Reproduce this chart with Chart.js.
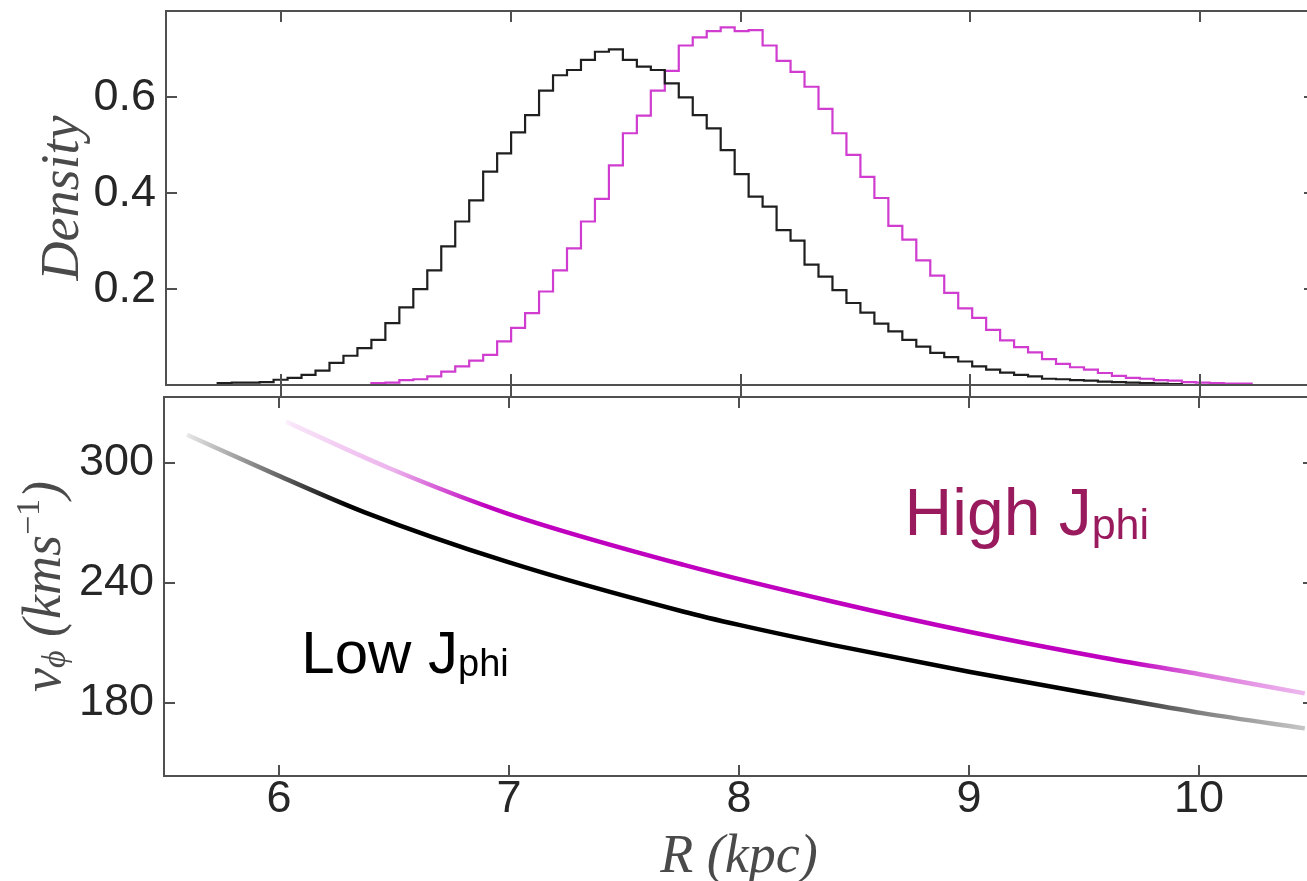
<!DOCTYPE html>
<html>
<head>
<meta charset="utf-8">
<script src="https://cdn.jsdelivr.net/npm/chart.js@4.4.1/dist/chart.umd.min.js"></script>
<style>
  html, body { margin: 0; padding: 0; background: #fff; overflow: hidden; }
  #wrap { position: relative; width: 1307px; height: 881px; overflow: hidden; }
  canvas { position: absolute; left: 0; }
  #densityChart { top: 0; }
  #velocityChart { top: 385px; }
</style>
</head>
<body>
<div id="wrap">
  <canvas id="densityChart" width="1330" height="400"></canvas>
  <canvas id="velocityChart" width="1330" height="496"></canvas>
</div>
<script>
// ==========================================================================
// DATA
// ==========================================================================
// both histograms share one bin grid (kpc)
const binStart = 5.725;
const binWidth = 0.0608;
const lowFirstBin = 0;
const highFirstBin = 11;

// density per bin, low J_phi sample (black)
const lowDensity = [
  0.004, 0.005, 0.005, 0.006, 0.011, 0.015, 0.021, 0.030, 0.046, 0.061,
  0.077, 0.094, 0.129, 0.162, 0.200, 0.239, 0.289, 0.341, 0.385, 0.445,
  0.483, 0.527, 0.563, 0.614, 0.646, 0.657, 0.678, 0.695, 0.700, 0.678,
  0.664, 0.657, 0.629, 0.600, 0.563, 0.535, 0.490, 0.440, 0.393, 0.372,
  0.323, 0.301, 0.251, 0.226, 0.198, 0.171, 0.151, 0.128, 0.112, 0.094,
  0.080, 0.067, 0.058, 0.049, 0.039, 0.032, 0.026, 0.021, 0.018, 0.013,
  0.012, 0.010, 0.009, 0.007, 0.006, 0.005, 0.004, 0.003, 0.002
];

// density per bin, high J_phi sample (magenta), starting at bin 11
const highDensity = [
  0.004, 0.005, 0.010, 0.012, 0.018, 0.028, 0.039, 0.051, 0.063, 0.091,
  0.119, 0.150, 0.195, 0.239, 0.285, 0.341, 0.388, 0.458, 0.525, 0.562,
  0.614, 0.655, 0.708, 0.725, 0.738, 0.746, 0.738, 0.740, 0.708, 0.676,
  0.653, 0.622, 0.576, 0.525, 0.480, 0.434, 0.390, 0.332, 0.303, 0.260,
  0.228, 0.192, 0.160, 0.140, 0.115, 0.093, 0.079, 0.068, 0.054, 0.044,
  0.037, 0.032, 0.025, 0.019, 0.015, 0.013, 0.010, 0.009, 0.006, 0.005,
  0.004, 0.003, 0.003
];

// v_phi against R
const lowCurveR  = [5.60, 5.99, 6.37, 6.99, 7.76, 8.00, 8.41, 9.00, 9.56, 10.02, 10.46];
const lowCurveV  = [313.9, 293.9, 275.3, 250.5, 225.5, 218.9, 208.8, 195.5, 183.9, 174.7, 167.2];
const highCurveR = [6.03, 6.48, 6.99, 7.76, 8.41, 9.00, 9.56, 10.02, 10.46];
const highCurveV = [320.5, 297.2, 274.7, 248.9, 230.5, 215.5, 203.0, 193.9, 184.7];

// axes
const radiusRange = [5.5, 10.5];
const densityRange = [0, 0.78];
const velocityRange = [143.4, 332.8];
const radiusTicks = [6, 7, 8, 9, 10];
const densityTicks = [0.2, 0.4, 0.6];
const velocityTicks = [180, 240, 300];

// ==========================================================================
// HELPERS
// ==========================================================================
const TICK_FONT = { family: "'Liberation Sans Narrow', 'Liberation Sans', Arial, sans-serif", size: 45, lineHeight: 1 };
const MATH_FONT = "'Liberation Serif', 'DejaVu Serif', serif";
const SANS_FONT = "'Liberation Sans', Arial, sans-serif";

function stepOutline(values, firstBin) {
    const left = binStart + firstBin * binWidth;
    const right = binStart + (firstBin + values.length) * binWidth;
    const pts = [{ x: left, y: 0 }];
    values.forEach((v, i) => pts.push({ x: binStart + (firstBin + i) * binWidth, y: v }));
    pts.push({ x: right, y: values[values.length - 1] });
    pts.push({ x: right, y: 0 });
    return pts;
}

function toPoints(xs, ys) {
    return xs.map((x, i) => ({ x: x, y: ys[i] }));
}

function fixedTicks(list) {
    return axis => { axis.ticks = list.map(v => ({ value: v })); };
}

// fading colour along R, like the sparse scatter at the ends of each band
function fadeGradient(rgb, stops) {
    return ctx => {
        const chart = ctx.chart;
        if (!chart.chartArea) return `rgb(${rgb})`;
        const xs = chart.scales.x;
        const x0 = xs.getPixelForValue(radiusRange[0]);
        const x1 = xs.getPixelForValue(radiusRange[1]);
        const g = chart.ctx.createLinearGradient(x0, 0, x1, 0);
        stops.forEach(([r, a]) => {
            const t = (r - radiusRange[0]) / (radiusRange[1] - radiusRange[0]);
            g.addColorStop(Math.max(0, Math.min(1, t)), `rgba(${rgb},${a})`);
        });
        return g;
    };
}

// draw a run of text pieces (for sub/superscripts)
function drawRuns(ctx, runs, x, y, align) {
    let total = 0;
    runs.forEach(r => { ctx.font = r.font; r.w = ctx.measureText(r.text).width; total += r.w; });
    let cx = align === 'center' ? x - total / 2 : x;
    runs.forEach(r => {
        ctx.font = r.font;
        ctx.fillText(r.text, cx, y + (r.dy || 0));
        cx += r.w;
    });
}

function strokeLine(ctx, x0, y0, x1, y1) {
    ctx.beginPath();
    ctx.moveTo(x0, y0);
    ctx.lineTo(x1, y1);
    ctx.stroke();
}

// frame on all four sides with inward ticks
const frameTicks = {
    id: 'frameTicks',
    afterDraw(chart, args, opts) {
        const { ctx, chartArea: a, scales } = chart;
        const len = 11;
        ctx.save();
        ctx.strokeStyle = '#505050';
        ctx.lineWidth = 2;
        ctx.strokeRect(a.left, a.top, a.right - a.left, a.bottom - a.top);
        scales.x.ticks.forEach(t => {
            const px = Math.round(scales.x.getPixelForValue(t.value));
            strokeLine(ctx, px, a.bottom + (opts.outBottom || 0), px, a.bottom - len);
            strokeLine(ctx, px, a.top, px, a.top + len);
        });
        scales.y.ticks.forEach(t => {
            const py = Math.round(scales.y.getPixelForValue(t.value));
            strokeLine(ctx, a.left, py, a.left + len, py);
            strokeLine(ctx, a.right, py, a.right - len, py);
        });
        ctx.restore();
    }
};

// axis titles and the two labels
const textLayer = {
    id: 'textLayer',
    afterDraw(chart, args, opts) {
        const { ctx, chartArea: a, scales } = chart;
        ctx.save();
        if (opts.yTitle) {
            ctx.fillStyle = '#4a4a4a';
            ctx.translate(opts.yTitle.x, (a.top + a.bottom) / 2);
            ctx.rotate(-Math.PI / 2);
            ctx.textBaseline = 'middle';
            drawRuns(ctx, opts.yTitle.runs, 0, 0, 'center');
            ctx.setTransform(1, 0, 0, 1, 0, 0);
        }
        if (opts.xTitle) {
            ctx.fillStyle = '#4a4a4a';
            ctx.textBaseline = 'middle';
            drawRuns(ctx, opts.xTitle.runs, (a.left + a.right) / 2, opts.xTitle.y, 'center');
        }
        ctx.textBaseline = 'alphabetic';
        (opts.labels || []).forEach(l => {
            ctx.fillStyle = l.color;
            drawRuns(ctx, l.runs, scales.x.getPixelForValue(l.r), scales.y.getPixelForValue(l.v), 'left');
        });
        ctx.restore();
    }
};

// fixed axis boxes so the plot areas sit exactly where the figure has them
function baseScales(yRange, yTicks, yWidth, xHeight, showX) {
    return {
        x: {
            type: 'linear', min: radiusRange[0], max: radiusRange[1],
            afterBuildTicks: fixedTicks(radiusTicks),
            afterFit: s => { s.height = xHeight; s.paddingLeft = 0; s.paddingRight = 0; },
            grid: { display: false, drawTicks: false },
            border: { display: false },
            ticks: { display: showX, font: TICK_FONT, color: '#262626', padding: 1, maxRotation: 0 }
        },
        y: {
            type: 'linear', min: yRange[0], max: yRange[1],
            afterBuildTicks: fixedTicks(yTicks),
            afterFit: s => { s.width = yWidth; s.paddingTop = 0; s.paddingBottom = 0; },
            grid: { display: false, drawTicks: false },
            border: { display: false },
            ticks: { font: TICK_FONT, color: '#262626', padding: 10 }
        }
    };
}

// ==========================================================================
// TOP PANEL: DENSITY HISTOGRAMS
// ==========================================================================
new Chart(document.getElementById('densityChart'), {
    type: 'line',
    data: {
        datasets: [
            { data: stepOutline(lowDensity, lowFirstBin), borderColor: '#1f1f1f', borderWidth: 2.2, stepped: 'before', pointRadius: 0 },
            { data: stepOutline(highDensity, highFirstBin), borderColor: '#cf3ccf', borderWidth: 2.2, stepped: 'before', pointRadius: 0 }
        ]
    },
    options: {
        responsive: false, animation: false, events: [],
        layout: { padding: { top: 11, right: 15, left: 0, bottom: 0 } },
        scales: baseScales(densityRange, densityTicks, 166, 15, false),
        plugins: {
            legend: { display: false }, tooltip: { enabled: false },
            frameTicks: { outBottom: 12 },
            textLayer: {
                yTitle: { x: 64, runs: [{ text: 'Density', font: `italic 54px ${MATH_FONT}` }] }
            }
        }
    },
    plugins: [frameTicks, textLayer]
});

// ==========================================================================
// BOTTOM PANEL: v_phi AGAINST R
// ==========================================================================
new Chart(document.getElementById('velocityChart'), {
    type: 'line',
    data: {
        datasets: [
            {
                data: toPoints(lowCurveR, lowCurveV), cubicInterpolationMode: 'monotone', pointRadius: 0, borderWidth: 4.5,
                borderColor: fadeGradient('0,0,0', [[5.55, 0], [5.62, 0.12], [6.0, 0.6], [6.3, 1], [9.5, 1], [10.0, 0.5], [10.5, 0.2]])
            },
            {
                data: toPoints(highCurveR, highCurveV), cubicInterpolationMode: 'monotone', pointRadius: 0, borderWidth: 4.5,
                borderColor: fadeGradient('191,0,191', [[6.0, 0], [6.06, 0.1], [6.5, 0.3], [6.9, 1], [9.7, 1], [10.0, 0.55], [10.5, 0.25]])
            }
        ]
    },
    options: {
        responsive: false, animation: false, events: [],
        layout: { padding: { top: 12, right: 16, left: 0, bottom: 0 } },
        scales: baseScales(velocityRange, velocityTicks, 164, 105, true),
        plugins: {
            legend: { display: false }, tooltip: { enabled: false },
            frameTicks: {},
            textLayer: {
                yTitle: {
                    x: 46,
                    runs: [
                        { text: 'v', font: `italic 54px ${MATH_FONT}` },
                        { text: 'ϕ', font: `italic 34px ${MATH_FONT}`, dy: 10 },
                        { text: ' (kms', font: `italic 54px ${MATH_FONT}` },
                        { text: '−1', font: `34px ${MATH_FONT}`, dy: -16 },
                        { text: ')', font: `italic 54px ${MATH_FONT}` }
                    ]
                },
                xTitle: {
                    y: 473,
                    runs: [{ text: 'R (kpc)', font: `italic 54px ${MATH_FONT}` }]
                },
                labels: [
                    {
                        r: 8.72, v: 263.9, color: '#991b5e',
                        runs: [{ text: 'High J', font: `66px ${SANS_FONT}` }, { text: 'phi', font: `43px ${SANS_FONT}`, dy: 4 }]
                    },
                    {
                        r: 6.097, v: 194.7, color: '#000000',
                        runs: [{ text: 'Low J', font: `60px ${SANS_FONT}` }, { text: 'phi', font: `38px ${SANS_FONT}`, dy: 3 }]
                    }
                ]
            }
        }
    },
    plugins: [frameTicks, textLayer]
});
</script>
</body>
</html>
